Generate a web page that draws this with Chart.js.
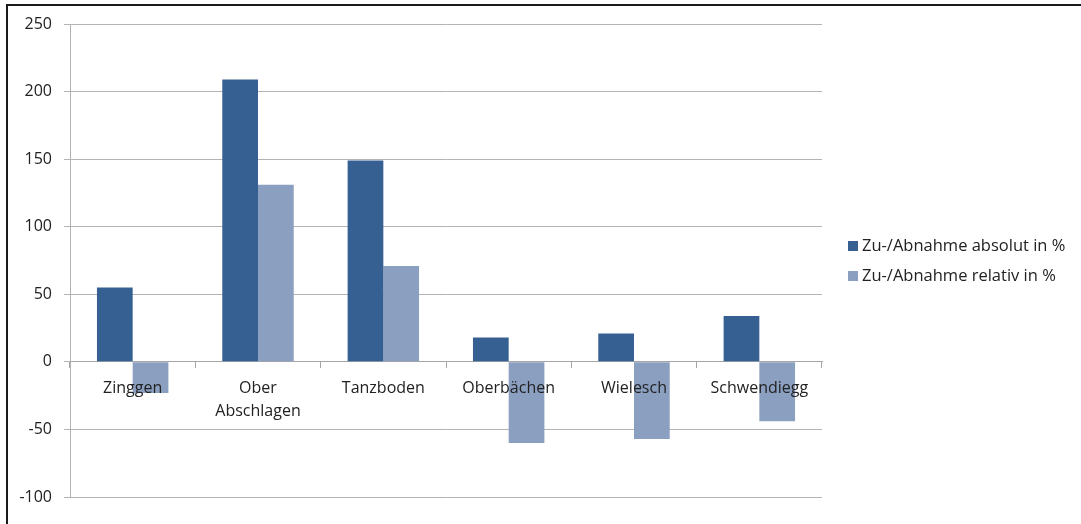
<!DOCTYPE html>
<html>
<head>
<meta charset="utf-8">
<script src="https://cdn.jsdelivr.net/npm/chart.js@4.4.0/dist/chart.umd.min.js"></script>
<style>
  html, body { margin: 0; padding: 0; background: #fff; }
  #wrap { position: relative; width: 1081px; height: 524px; overflow: hidden; }
  #frame { position: absolute; left: 6px; top: 4px; width: 1200px; height: 600px; border: 2px solid #1a1a1a; box-sizing: border-box; }
  #chartBox { position: absolute; left: 0; top: 0; width: 1081px; height: 524px; }
  #legend { position: absolute; left: 848px; top: 234px; font: 16.5px "Open Sans", sans-serif; color: #222; }
  #legend div { height: 30px; line-height: 22px; white-space: nowrap; }
  #legend span { display: inline-block; width: 10px; height: 10px; margin-right: 4px; }
</style>
</head>
<body>
<div id="wrap">
  <div id="frame"></div>
  <div id="chartBox"><canvas id="bar-chart" width="1081" height="524"></canvas></div>
  <div id="legend"></div>
</div>
<script>
const categories = [['Zinggen'], ['Ober', 'Abschlagen'], ['Tanzboden'], ['Oberbächen'], ['Wielesch'], ['Schwendiegg']];
const absolut = [55, 209, 149, 18, 21, 34];
const relativ = [-23, 131, 71, -60, -57, -44];
const yTicks = [-100, -50, 0, 50, 100, 150, 200, 250];
const seriesNames = ['Zu-/Abnahme absolut in %', 'Zu-/Abnahme relativ in %'];
const seriesColors = ['#365f92', '#8b9fc0'];

const font = { family: '"Open Sans", sans-serif', size: 16, lineHeight: 1.45 };

new Chart(document.getElementById('bar-chart'), {
  type: 'bar',
  data: {
    labels: categories,
    datasets: [{
        data: absolut,
        label: seriesNames[0],
        backgroundColor: seriesColors[0],
        categoryPercentage: 0.57,
        barPercentage: 1
      }, {
        data: relativ,
        label: seriesNames[1],
        backgroundColor: seriesColors[1],
        categoryPercentage: 0.57,
        barPercentage: 1
      }
    ]
  },
  options: {
    responsive: false,
    animation: false,
    layout: { padding: { left: 0, right: 259, top: 24, bottom: 27 } },
    plugins: {
      legend: { display: false },
      tooltip: { enabled: false }
    },
    scales: {
      x: {
        position: { y: 0 },
        offset: true,
        grid: { offset: true, drawOnChartArea: false, drawTicks: true, tickLength: 6, color: '#a6a6a6' },
        border: { color: '#a6a6a6' },
        ticks: { z: 1, color: '#222', font: font, padding: 9, maxRotation: 0, autoSkip: false }
      },
      y: {
        min: yTicks[0],
        max: yTicks[yTicks.length - 1],
        afterBuildTicks: function(scale) { scale.ticks = yTicks.map(v => ({ value: v })); },
        afterFit: function(scale) { scale.width = 70; },
        grid: { color: '#b3b3b3', tickLength: 6 },
        border: { color: '#b3b3b3' },
        ticks: { color: '#222', font: font, padding: 12 }
      }
    }
  }
});

let html = '';
seriesNames.forEach(function(name, i) {
  html += '<div><span style="background:' + seriesColors[i] + '"></span>' + name + '</div>';
});
document.getElementById('legend').innerHTML = html;
</script>
</body>
</html>
